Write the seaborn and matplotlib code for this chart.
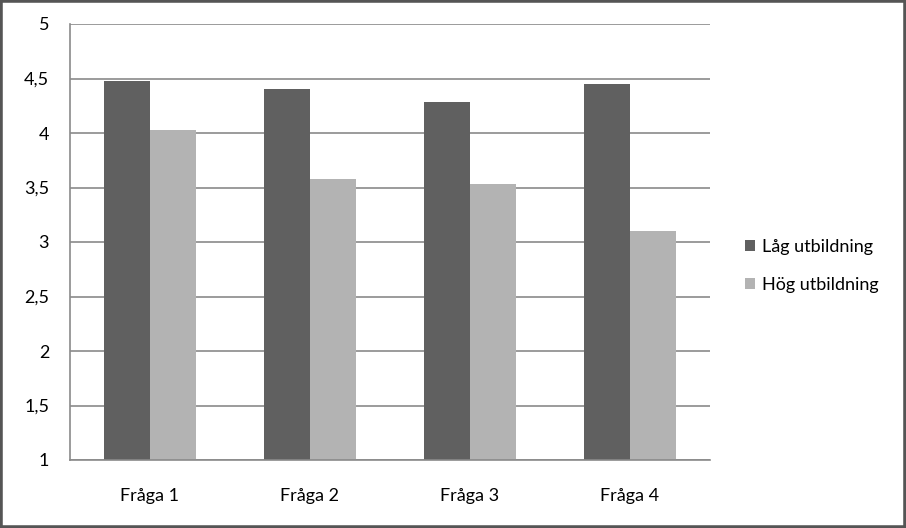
import matplotlib
matplotlib.use("Agg")
import matplotlib.pyplot as plt
import seaborn as sns
import pandas as pd
import numpy as np
from matplotlib.patches import Rectangle

categories = ["Fråga 1", "Fråga 2", "Fråga 3", "Fråga 4"]
series_names = ["Låg utbildning", "Hög utbildning"]
low_values = [4.48, 4.40, 4.28, 4.45]
high_values = [4.03, 3.58, 3.53, 3.10]
y_ticks = [1, 1.5, 2, 2.5, 3, 3.5, 4, 4.5, 5]
y_tick_labels = ["1", "1,5", "2", "2,5", "3", "3,5", "4", "4,5", "5"]

df = pd.DataFrame({
    "cat": categories * 2,
    "serie": [series_names[0]] * 4 + [series_names[1]] * 4,
    "val": low_values + high_values,
})

sns.set_style("white")
plt.rcParams['font.family'] = ['Lato', 'DejaVu Sans']
plt.rcParams['text.color'] = 'black'
plt.rcParams['xtick.labelcolor'] = 'black'
plt.rcParams['ytick.labelcolor'] = 'black'

fig = plt.figure(figsize=(9.06, 5.28), dpi=100)
ax = fig.add_axes([70/906, 1-460/528, 640/906, 436/528])

grid_c = "#8a8a8a"
for t in y_ticks:
    ax.axhline(t, color=grid_c, lw=1.2, zorder=0)

sns.barplot(data=df, x="cat", y="val", hue="serie", ax=ax,
            palette=["#606060", "#b3b3b3"], width=0.57, saturation=1,
            edgecolor="none", zorder=2)
ax.set_ylim(1, 5)
ax.set_xlim(-0.5, 3.5)
ax.set_yticks(y_ticks)
ax.set_yticklabels(y_tick_labels, fontsize=13)
ax.set_xlabel("")
ax.set_ylabel("")
ax.tick_params(axis="x", which="major", length=0, labelsize=13, pad=20, labelcolor="black")
ax.set_xticks([-0.5, 0.5, 1.5, 2.5, 3.5], minor=True)
ax.tick_params(axis="x", which="minor", length=5, color=grid_c, width=1.2, direction="out")
ax.tick_params(axis="y", length=5, color=grid_c, width=1.2, direction="out", pad=10, labelcolor="black")
for s in ["top", "right"]:
    ax.spines[s].set_visible(False)
for s in ["left", "bottom"]:
    ax.spines[s].set_color(grid_c)
    ax.spines[s].set_linewidth(1.2)

leg = ax.legend(loc="center left", bbox_to_anchor=(1.0547, 0.445), frameon=False,
                fontsize=13, handlelength=0.55, handleheight=0.55,
                handletextpad=0.4, labelspacing=1.2, borderpad=0, borderaxespad=0)
for txt in leg.get_texts():
    txt.set_color("black")

fig.patches.append(Rectangle((0, 0), 1, 1, transform=fig.transFigure,
                             fill=False, edgecolor="#555555", lw=4))
fig.savefig("out.png", dpi=100)
